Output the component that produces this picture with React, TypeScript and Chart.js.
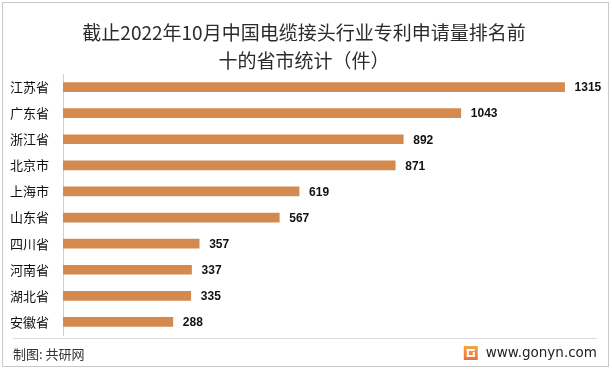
import React, { useEffect, useRef } from "react";
import { Chart, registerables } from "chart.js";

Chart.register(...registerables);

const categories = ["江苏省", "广东省", "浙江省", "北京市", "上海市", "山东省", "四川省", "河南省", "湖北省", "安徽省"];
const values = [1315, 1043, 892, 871, 619, 567, 357, 337, 335, 288];
const titleLines = ["截止2022年10月中国电缆接头行业专利申请量排名前", "十的省市统计（件）"];
const footerLeft = "制图: 共研网";
const footerRight = "www.gonyn.com";

const FONT = '"Noto Sans CJK SC", "Noto Sans", sans-serif';
const BAR_COLOR = "#D48A4E";

const decorPlugin = {
  id: "decor",
  beforeDraw(chart: any) {
    const ctx = chart.ctx;
    ctx.save();
    ctx.fillStyle = "#ffffff";
    ctx.fillRect(0, 0, chart.width, chart.height);
    ctx.restore();
  },
  afterDraw(chart: any) {
    const ctx = chart.ctx;
    const area = chart.chartArea;
    ctx.save();
    // outer border
    ctx.strokeStyle = "#c9c9c9";
    ctx.lineWidth = 1;
    ctx.strokeRect(2.5, 2.5, chart.width - 6, chart.height - 6);
    // title
    ctx.fillStyle = "#2b2b2b";
    ctx.font = `19px ${FONT}`;
    ctx.textAlign = "center";
    ctx.textBaseline = "middle";
    const cx = 304;
    ctx.fillText(titleLines[0], cx, 33);
    ctx.fillText(titleLines[1], cx, 61);
    // footer line
    ctx.strokeStyle = "#dcdcdc";
    ctx.beginPath();
    ctx.moveTo(13, 338.5);
    ctx.lineTo(area.right, 338.5);
    ctx.stroke();
    // footer text
    ctx.fillStyle = "#333333";
    ctx.font = `13px ${FONT}`;
    ctx.textAlign = "left";
    ctx.fillText(footerLeft, 13, 354);
    ctx.textAlign = "right";
    ctx.fillStyle = "#222222";
    ctx.font = `13.5px "DejaVu Sans", sans-serif`;
    const w = ctx.measureText(footerRight).width;
    ctx.fillText(footerRight, area.right, 353);
    // logo
    const lx = area.right - w - 22;
    const grad = ctx.createLinearGradient(lx, 346, lx, 361);
    grad.addColorStop(0, "#f7a440");
    grad.addColorStop(1, "#ef6a3a");
    ctx.fillStyle = grad;
    ctx.fillRect(lx, 346, 14, 14);
    ctx.fillStyle = "#ffffff";
    ctx.fillRect(lx + 3, 349, 8, 2);
    ctx.fillRect(lx + 3, 349, 2, 8);
    ctx.fillRect(lx + 3, 355, 8, 2);
    ctx.fillRect(lx + 9, 352, 2, 5);
    // value labels
    const meta = chart.getDatasetMeta(0);
    ctx.fillStyle = "#111111";
    ctx.font = `bold 12px "Liberation Sans", Arial, sans-serif`;
    ctx.textAlign = "left";
    ctx.textBaseline = "middle";
    meta.data.forEach((bar: any, i: number) => {
      ctx.fillText(String(values[i]), bar.x + 10, bar.y + 1);
    });
    ctx.restore();
  },
};

export default function App() {
  const ref = useRef<HTMLCanvasElement | null>(null);
  useEffect(() => {
    document.body.style.margin = "0";
    const chart = new Chart(ref.current as HTMLCanvasElement, {
      type: "bar",
      data: {
        labels: categories,
        datasets: [
          {
            data: values,
            backgroundColor: BAR_COLOR,
            barThickness: 9,
          },
        ],
      },
      options: {
        indexAxis: "y",
        animation: false,
        responsive: false,
        layout: { padding: { left: 10, right: 15, top: 74, bottom: 35 } },
        plugins: {
          legend: { display: false },
          title: { display: false },
          tooltip: { enabled: false },
        },
        scales: {
          x: { display: false, min: 0, max: 1400 },
          y: {
            grid: { display: false, drawTicks: false },
            border: { display: true, color: "#d0d0d0" },
            ticks: {
              color: "#111111",
              font: { size: 13, family: FONT },
              padding: 14,
            },
            afterFit: (s: any) => {
              s.width = 53;
            },
          },
        },
      },
      plugins: [decorPlugin],
    });
    return () => chart.destroy();
  }, []);
  return (
    <div style={{ width: 612, height: 370 }}>
      <canvas ref={ref} width={612} height={370} style={{ display: "block" }} />
    </div>
  );
}
